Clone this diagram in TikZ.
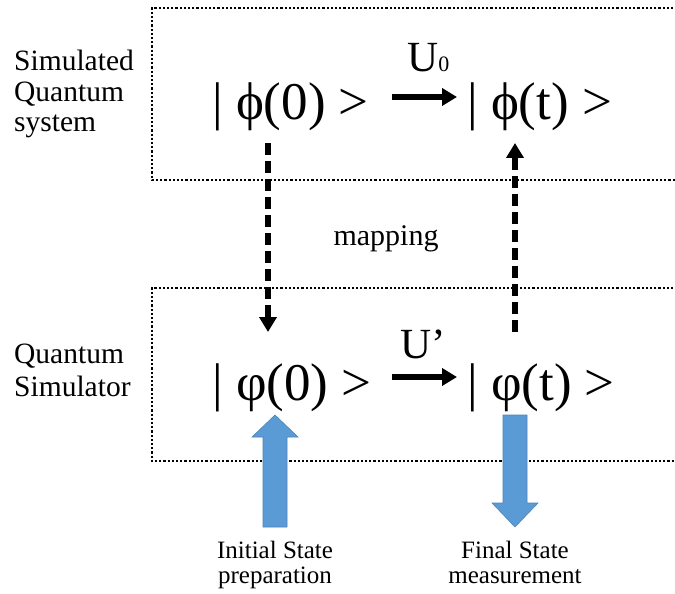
\documentclass[tikz,border=0pt]{standalone}
\usepackage{fontspec}
\setmainfont{Liberation Serif}
\usetikzlibrary{arrows.meta}
\definecolor{arrowblue}{HTML}{5B9BD5}
\begin{document}
\begin{tikzpicture}[x=1bp,y=-1bp,
  dotbox/.style={line width=2.4bp, dash pattern=on 2.2bp off 2bp},
  bigtext/.style={font=\fontsize{53bp}{60bp}\selectfont, inner sep=0pt, anchor=base west},
  sidelbl/.style={font=\fontsize{29.5bp}{30bp}\selectfont, inner sep=0pt, anchor=base west},
  steplbl/.style={font=\fontsize{25bp}{25bp}\selectfont, inner sep=0pt, anchor=base},
  oplbl/.style={inner sep=0pt, anchor=base west},
  evo/.style={line width=5.5bp, -{Triangle[length=15bp,width=17bp]}},
  mapline/.style={line width=5.5bp, dash pattern=on 12bp off 6bp, -{Triangle[length=15bp,width=17bp]}},
  blockarrow/.style={fill=arrowblue, draw=arrowblue!85!black, line width=0.6bp}
]
\useasboundingbox (0,0) rectangle (675,594);
\clip (0,0) rectangle (675,594);

% dotted boxes (right side runs off the picture)
\draw[dotbox] (690,8) -- (152,8) -- (152,180) -- (690,180);
\draw[dotbox] (690,288) -- (152,288) -- (152,461) -- (690,461);

% side labels
\node[sidelbl] (sim1) at (14,71) {Simulated};
\node[sidelbl] (sim2) at (14,102) {Quantum};
\node[sidelbl] (sim3) at (14,132) {system};
\node[sidelbl] (qs1) at (14,363) {Quantum};
\node[sidelbl] (qs2) at (14,396) {Simulator};

% states
\node[bigtext] (s0) at (212,120) {| ϕ(0) >};
\node[bigtext] (st) at (467,120) {| ϕ(t) >};
\node[bigtext] (p0) at (212,400) {| φ(0) >};
\node[bigtext] (pt) at (467,400) {| φ(t) >};

% evolution arrows
\coordinate (e1s) at (392,97);
\coordinate (e1e) at (457,97);
\coordinate (e2s) at (392,377);
\coordinate (e2e) at (457,377);
\draw[evo] (e1s) -- (e1e);
\draw[evo] (e2s) -- (e2e);
\node[oplbl] (u0) at (407,72) {\fontsize{43bp}{43bp}\selectfont U\fontsize{22bp}{22bp}\selectfont 0};
\node[oplbl] (up) at (400,358) {\fontsize{43bp}{43bp}\selectfont U’};

% mapping arrows
\coordinate (m1s) at (268,143);
\coordinate (m1e) at (268,332);
\coordinate (m2s) at (515,332);
\coordinate (m2e) at (515,143);
\draw[mapline] (m1s) -- (m1e);
\draw[mapline] (m2s) -- (m2e);
\node[font=\fontsize{30bp}{30bp}\selectfont, inner sep=0pt, anchor=base] (map) at (386,245) {mapping};

% blue block arrows
\fill[blockarrow] (263,527) -- (287,527) -- (287,437) -- (298,437) -- (275,415) -- (252,437) -- (263,437) -- cycle;
\fill[blockarrow] (503,415) -- (527,415) -- (527,503) -- (538,503) -- (515,527) -- (492,503) -- (503,503) -- cycle;

% bottom labels
\node[steplbl] (init1) at (275,558) {Initial State};
\node[steplbl] (init2) at (275,583) {preparation};
\node[steplbl] (fin1) at (515,558) {Final State};
\node[steplbl] (fin2) at (515,583) {measurement};
\end{tikzpicture}
\end{document}
